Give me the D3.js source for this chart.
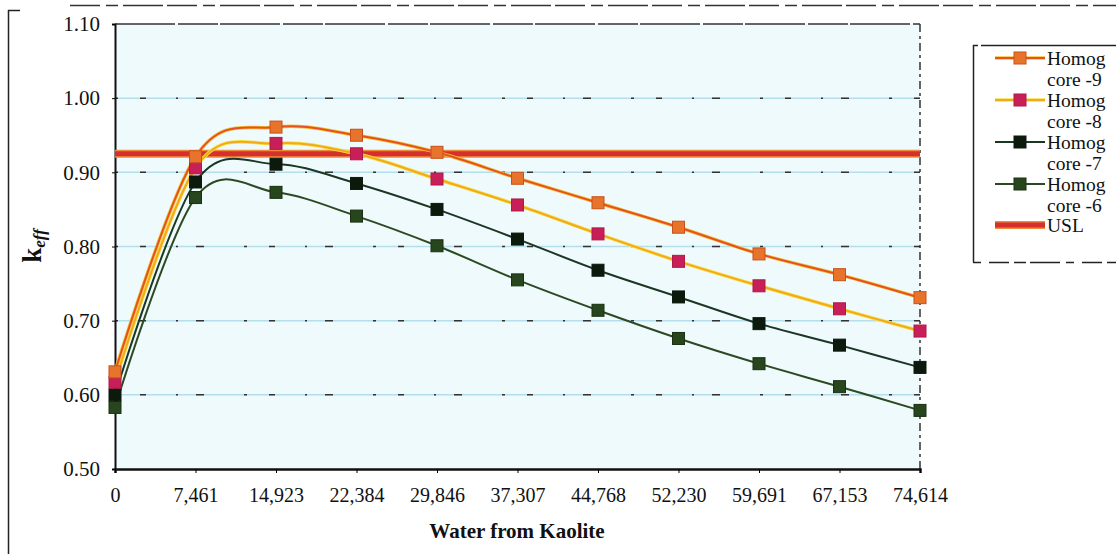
<!DOCTYPE html>
<html><head><meta charset="utf-8">
<script src="https://cdn.jsdelivr.net/npm/d3@7/dist/d3.min.js"></script>
<style>body{margin:0;background:#fff;}svg{display:block;font-family:"Liberation Serif","Times New Roman",serif;}</style>
</head><body><svg id="c" width="1116" height="554"></svg>
<script>
const categories = ["0","7,461","14,923","22,384","29,846","37,307","44,768","52,230","59,691","67,153","74,614"];
const core9 = [0.631,0.921,0.961,0.950,0.927,0.892,0.859,0.826,0.790,0.762,0.731];
const core8 = [0.617,0.906,0.939,0.925,0.891,0.856,0.817,0.780,0.747,0.716,0.686];
const core7 = [0.600,0.887,0.911,0.885,0.850,0.810,0.768,0.732,0.696,0.667,0.637];
const core6 = [0.583,0.866,0.873,0.841,0.801,0.755,0.714,0.676,0.642,0.611,0.579];
const uslValue = 0.925;
const yTicks = [0.50,0.60,0.70,0.80,0.90,1.00,1.10];
const seriesNames = ["Homog core -9","Homog core -8","Homog core -7","Homog core -6"];

const series = [
  {name:seriesNames[0], values:core9, line:"#e4521f", halo:"#f6c23a", mark:"#e8742c", markStroke:"#c8501c"},
  {name:seriesNames[1], values:core8, line:"#f2aa1c", halo:"#f7e04a", mark:"#c81f58", markStroke:"#b01848"},
  {name:seriesNames[2], values:core7, line:"#1b3623", halo:null, mark:"#0b1a0c", markStroke:"#0b1a0c"},
  {name:seriesNames[3], values:core6, line:"#2c4a22", halo:null, mark:"#27461d", markStroke:"#1a3010"}
];

const svg = d3.select("#c");
const L=115, R=920, T=24, B=469;
const x = d3.scaleLinear().domain([0, categories.length-1]).range([L, R]);
const y = d3.scaleLinear().domain([0.5, 1.1]).range([B, T]);

// outer frame remnants
svg.append("line").attr("x1",8.5).attr("x2",8.5).attr("y1",10).attr("y2",554).attr("stroke","#222").attr("stroke-width",1.5);
svg.append("line").attr("x1",8).attr("x2",20).attr("y1",10.5).attr("y2",10.5).attr("stroke","#222").attr("stroke-width",1.5);
svg.append("line").attr("x1",70).attr("x2",1116).attr("y1",5.5).attr("y2",5.5).attr("stroke","#333").attr("stroke-width",1.5).attr("stroke-dasharray","30,6,12,5,40,4");

// plot background
svg.append("rect").attr("x",L).attr("y",T).attr("width",R-L).attr("height",B-T).attr("fill","#eefafc");

// gridlines
const grid = svg.append("g");
yTicks.filter(v=>v>0.5 && v<1.1).forEach(v=>{
  grid.append("line").attr("x1",L).attr("x2",R).attr("y1",y(v)).attr("y2",y(v)).attr("stroke","#b4deec").attr("stroke-width",1.5);
  grid.append("line").attr("x1",L).attr("x2",R).attr("y1",y(v)).attr("y2",y(v)).attr("stroke","#333").attr("stroke-width",1.5).attr("stroke-dasharray","3,22,6,30,2,18,8,40");
});

// plot frame: top dashed, right dashed
svg.append("line").attr("x1",L).attr("x2",R).attr("y1",T).attr("y2",T).attr("stroke","#333").attr("stroke-width",1.5).attr("stroke-dasharray","60,3,40,2");
svg.append("line").attr("x1",R).attr("x2",R).attr("y1",T).attr("y2",B).attr("stroke","#333").attr("stroke-width",1.5).attr("stroke-dasharray","8,4,3,4");

// axes
const yAxis = d3.axisLeft(y).tickValues(yTicks).tickFormat(d3.format(".2f")).tickSize(3).tickPadding(12);
const gy = svg.append("g").attr("transform",`translate(${L},0)`).call(yAxis);
gy.attr("font-size",21).attr("font-family","Liberation Serif");
gy.select(".domain").attr("stroke","#111").attr("stroke-width",2);
gy.selectAll("text").attr("fill","#111");

const xAxis = d3.axisBottom(x).tickValues(d3.range(categories.length)).tickFormat(i=>categories[i]).tickSize(4).tickPadding(15);
const gx = svg.append("g").attr("transform",`translate(0,${B})`).call(xAxis);
gx.attr("font-size",20).attr("font-family","Liberation Serif");
gx.select(".domain").attr("stroke","#111").attr("stroke-width",2.5);
gx.selectAll("text").attr("fill","#111");

// USL line
svg.append("line").attr("x1",L).attr("x2",R).attr("y1",y(uslValue)).attr("y2",y(uslValue)).attr("stroke","#ef8a3a").attr("stroke-width",8);
svg.append("line").attr("x1",L).attr("x2",R).attr("y1",y(uslValue)).attr("y2",y(uslValue)).attr("stroke","#d6302c").attr("stroke-width",5);

// series
const lineGen = d3.line().x((d,i)=>x(i)).y(d=>y(d)).curve(d3.curveCardinal.tension(0));
series.slice().reverse().forEach(s=>{
  if(s.halo) svg.append("path").attr("d",lineGen(s.values)).attr("fill","none").attr("stroke",s.halo).attr("stroke-width",3.5);
  svg.append("path").attr("d",lineGen(s.values)).attr("fill","none").attr("stroke",s.line).attr("stroke-width",2);
});
series.slice().reverse().forEach(s=>{
  svg.append("g").selectAll("rect").data(s.values).join("rect")
    .attr("x",(d,i)=>x(i)-6).attr("y",d=>y(d)-6).attr("width",12).attr("height",12)
    .attr("fill",s.mark).attr("stroke",s.markStroke).attr("stroke-width",1);
});

// y label
const yl = svg.append("text").attr("transform","translate(41,246) rotate(-90)").attr("text-anchor","middle").attr("fill","#111");
yl.append("tspan").text("k").attr("font-size",27).attr("font-weight","bold");
yl.append("tspan").text("eff").attr("font-size",17).attr("font-style","italic").attr("font-weight","bold").attr("dy",4);

// x label
svg.append("text").attr("x",517).attr("y",538).attr("text-anchor","middle").attr("font-size",21).attr("font-weight","bold").attr("fill","#111").text("Water from Kaolite");

// legend
const lg = svg.append("g");
lg.append("line").attr("x1",973.5).attr("x2",973.5).attr("y1",45).attr("y2",262).attr("stroke","#222").attr("stroke-width",1.5);
lg.append("line").attr("x1",973).attr("x2",1116).attr("y1",45.5).attr("y2",45.5).attr("stroke","#222").attr("stroke-width",1.5).attr("stroke-dasharray","5,3,200,0");
lg.append("line").attr("x1",973).attr("x2",1116).attr("y1",262.5).attr("y2",262.5).attr("stroke","#222").attr("stroke-width",1.5).attr("stroke-dasharray","8,8,20,5,12,4,30,6");
const lh = 42;
series.forEach((s,k)=>{
  const cy = 58 + k*lh;
  if(s.halo) lg.append("line").attr("x1",995).attr("x2",1045).attr("y1",cy).attr("y2",cy).attr("stroke",s.halo).attr("stroke-width",3.5);
  lg.append("line").attr("x1",995).attr("x2",1045).attr("y1",cy).attr("y2",cy).attr("stroke",s.line).attr("stroke-width",2);
  lg.append("rect").attr("x",1014).attr("y",cy-6).attr("width",12).attr("height",12).attr("fill",s.mark).attr("stroke",s.markStroke);
  const parts = s.name.split(" ");
  lg.append("text").attr("x",1047).attr("y",cy+7).attr("font-size",19.5).attr("fill","#111").text(parts[0]);
  lg.append("text").attr("x",1047).attr("y",cy+28).attr("font-size",19.5).attr("fill","#111").text(parts.slice(1).join(" "));
});
const uy = 58 + 4*lh - 1;
lg.append("line").attr("x1",995).attr("x2",1045).attr("y1",uy).attr("y2",uy).attr("stroke","#ef8a3a").attr("stroke-width",8);
lg.append("line").attr("x1",995).attr("x2",1045).attr("y1",uy).attr("y2",uy).attr("stroke","#d6302c").attr("stroke-width",5);
lg.append("text").attr("x",1047).attr("y",uy+7).attr("font-size",19.5).attr("fill","#111").text("USL");
</script></body></html>
